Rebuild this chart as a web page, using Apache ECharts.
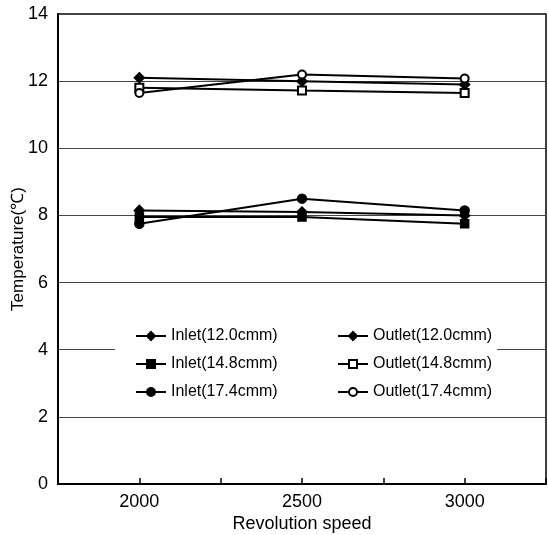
<!DOCTYPE html>
<html><head><meta charset="utf-8">
<script src="https://cdn.jsdelivr.net/npm/echarts@6/dist/echarts.min.js"></script>
<style>html,body{margin:0;padding:0;background:#fff}#c{width:548px;height:535px}</style>
</head><body><div id="c"></div>
<script>
const speeds = [2000, 2500, 3000];
const inlet120 = [8.15, 8.10, 8.00];
const inlet148 = [7.95, 7.95, 7.75];
const inlet174 = [7.75, 8.50, 8.15];
const outlet120 = [12.10, 12.00, 11.90];
const outlet148 = [11.80, 11.72, 11.65];
const outlet174 = [11.65, 12.20, 12.08];
const yTicks = [0, 2, 4, 6, 8, 10, 12, 14];
const xLabels = [2000, 2500, 3000];

const pairs = arr => speeds.map((s, i) => [s, arr[i]]);
const mk = (name, data, symbol, size) => ({
  name, type: 'line', data: pairs(data), symbol, symbolSize: size,
  lineStyle: { color: '#000', width: 2 },
  itemStyle: { color: '#000', borderColor: '#000', borderWidth: 1.5 },
  emphasis: { disabled: true }
});
const font = 'Liberation Sans, Arial, sans-serif';
const chart = echarts.init(document.getElementById('c'));
chart.setOption({
  animation: false,
  backgroundColor: '#fff',
  grid: { left: 58, right: 2, top: 14, bottom: 51, show: true, borderColor: '#000', borderWidth: 1.5,
    containLabel: false, outerBoundsMode: 'none' },
  xAxis: {
    type: 'value', min: 1750, max: 3250, interval: 250,
    name: 'Revolution speed', nameLocation: 'middle', nameGap: 31, nameMoveOverlap: false,
    nameTextStyle: { fontFamily: font, fontSize: 18, color: '#000' },
    axisLine: { lineStyle: { color: '#000', width: 2 } },
    axisTick: { inside: true, length: 6, lineStyle: { color: '#000', width: 1.5 } },
    axisLabel: { fontFamily: font, fontSize: 18, color: '#000', margin: 9,
      formatter: v => xLabels.includes(v) ? String(v) : '' },
    splitLine: { show: false }
  },
  yAxis: {
    type: 'value', min: yTicks[0], max: yTicks[yTicks.length - 1], interval: 2,
    name: 'Temperature(℃)', nameLocation: 'middle', nameGap: 31, nameMoveOverlap: false,
    nameTextStyle: { fontFamily: font, fontSize: 17, color: '#000' },
    axisLine: { lineStyle: { color: '#000', width: 2 } },
    axisTick: { show: false },
    axisLabel: { fontFamily: font, fontSize: 18, color: '#000', margin: 10 },
    splitLine: { lineStyle: { color: '#444', width: 1 } }
  },
  legend: [
    { orient: 'vertical', left: 115, top: 320, itemWidth: 30, itemHeight: 10, itemGap: 12,
      padding: [8, 45, 8, 20], backgroundColor: '#fff',
      textStyle: { fontFamily: font, fontSize: 16, color: '#000' },
      data: ['Inlet(12.0cmm)', 'Inlet(14.8cmm)', 'Inlet(17.4cmm)'] },
    { orient: 'vertical', left: 320, top: 320, itemWidth: 30, itemHeight: 10, itemGap: 12,
      padding: [8, 5, 8, 17], backgroundColor: '#fff',
      textStyle: { fontFamily: font, fontSize: 16, color: '#000' },
      data: ['Outlet(12.0cmm)', 'Outlet(14.8cmm)', 'Outlet(17.4cmm)'] }
  ],
  series: [
    mk('Inlet(12.0cmm)', inlet120, 'diamond', 10),
    mk('Inlet(14.8cmm)', inlet148, 'rect', 8),
    mk('Inlet(17.4cmm)', inlet174, 'circle', 9),
    mk('Outlet(12.0cmm)', outlet120, 'diamond', 10),
    mk('Outlet(14.8cmm)', outlet148, 'emptyRect', 8),
    mk('Outlet(17.4cmm)', outlet174, 'emptyCircle', 8)
  ]
});
</script></body></html>
